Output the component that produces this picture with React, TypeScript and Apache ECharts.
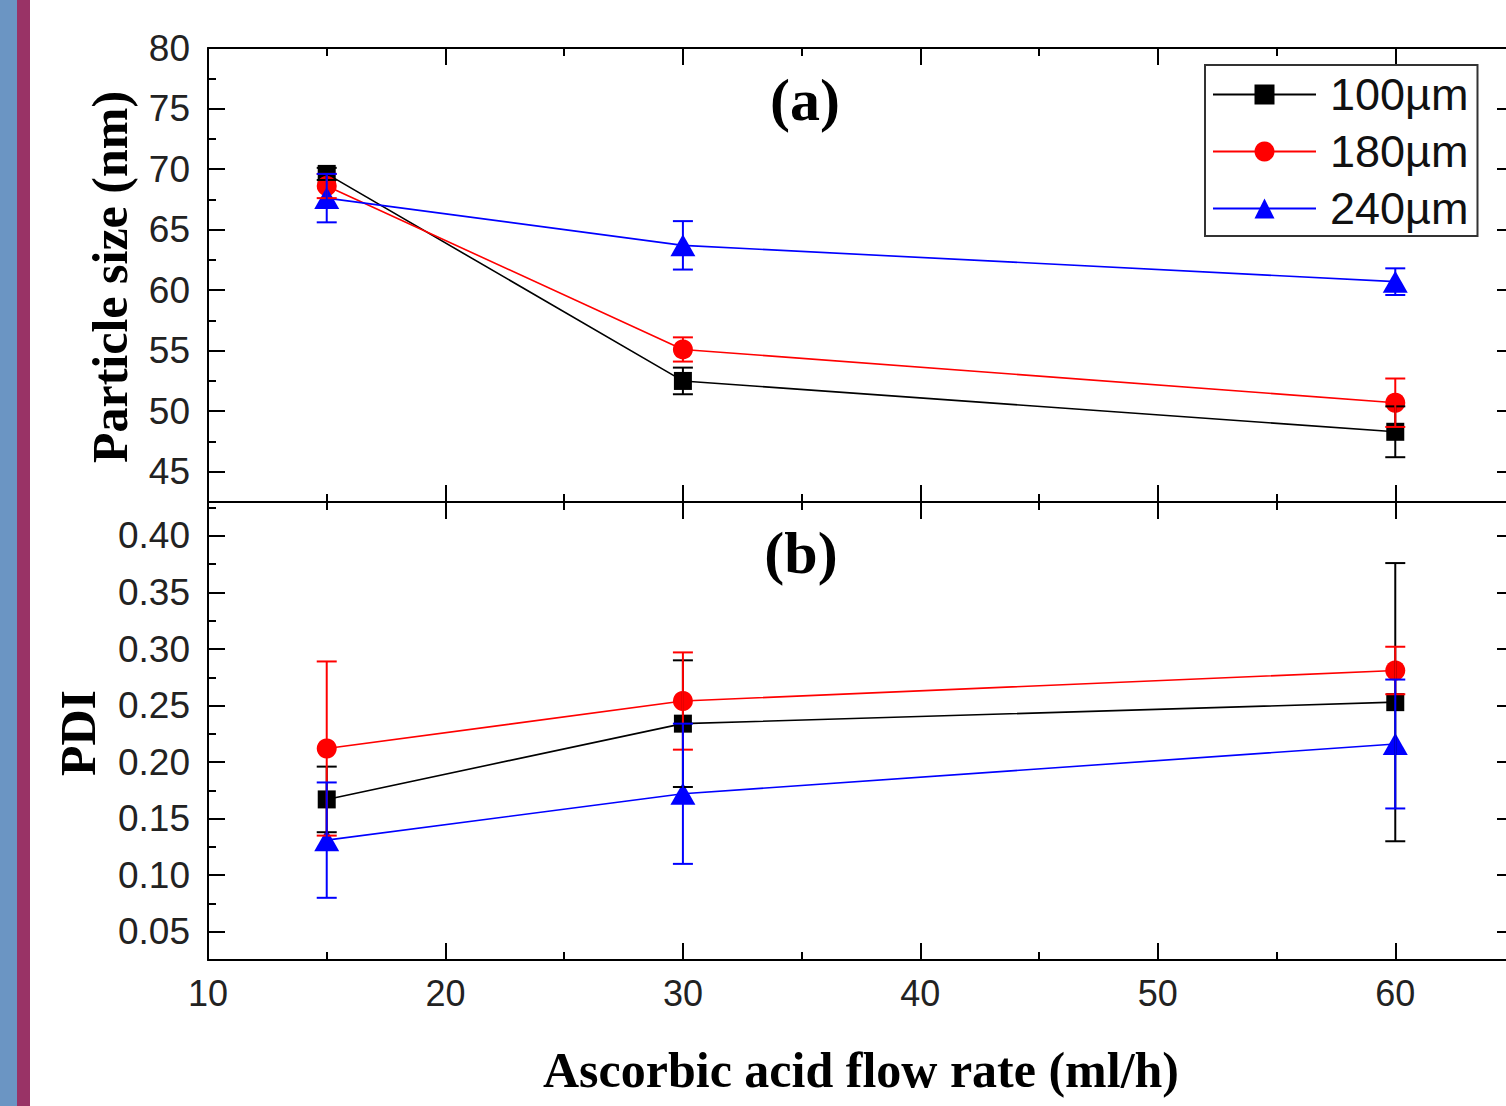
import React, { useEffect, useRef } from 'react';
import * as echarts from 'echarts';

// ---------------- data ----------------
const flowRates = [15, 30, 60];
const seriesNames = ['100µm', '180µm', '240µm'];
const seriesColors = ['#000000', '#ff0000', '#0000ff'];
const seriesSymbols = ['rect', 'circle', 'triangle'];
const seriesSymbolSizes: any[] = [18, 20, [25, 22]];

const size100 = [69.6, 52.5, 48.3];
const size100Err = [0.5, 1.1, 2.1];
const size180 = [68.6, 55.1, 50.7];
const size180Err = [1.0, 1.0, 2.0];
const size240 = [67.6, 63.7, 60.7];
const size240Err = [2.0, 2.0, 1.1];

const pdi100 = [0.167, 0.234, 0.253];
const pdi100Err = [0.029, 0.056, 0.123];
const pdi180 = [0.212, 0.254, 0.281];
const pdi180Err = [0.077, 0.043, 0.021];
const pdi240 = [0.131, 0.172, 0.216];
const pdi240Err = [0.051, 0.062, 0.057];

const xRange = [10, 65];
const sizeRange = [42.5, 80];
const pdiRange = [0.025, 0.43];

const panelMeans = [
  [size100, size180, size240],
  [pdi100, pdi180, pdi240],
];
const panelErrs = [
  [size100Err, size180Err, size240Err],
  [pdi100Err, pdi180Err, pdi240Err],
];

// ---------------- styling helpers ----------------
const SANS = 'Liberation Sans, Arial, sans-serif';
const SERIF = 'Liberation Serif, Times New Roman, serif';
const MAJOR = 17;
const MINOR = 8;

function xAxisPair(gridIndex: number, position: string, showLabel: boolean) {
  const base = {
    type: 'value',
    gridIndex,
    position,
    min: xRange[0],
    max: xRange[1],
    splitLine: { show: false },
  };
  return [
    {
      ...base,
      interval: 10,
      axisLine: { show: true, onZero: false, lineStyle: { color: '#000', width: 2 } },
      axisTick: { show: true, inside: true, length: MAJOR, lineStyle: { color: '#000', width: 2 } },
      axisLabel: {
        show: showLabel,
        showMaxLabel: false,
        margin: 15,
        fontSize: 36,
        fontFamily: SANS,
        color: '#222',
      },
    },
    {
      ...base,
      interval: 5,
      axisLine: { show: false, onZero: false },
      axisTick: { show: true, inside: true, length: MINOR, lineStyle: { color: '#000', width: 2 } },
      axisLabel: { show: false },
    },
  ];
}

function yAxisPair(
  gridIndex: number,
  position: string,
  range: number[],
  minorInterval: number,
  showLabel: boolean,
  showMax: boolean,
  fmt: (v: number) => string
) {
  const base = {
    type: 'value',
    gridIndex,
    position,
    min: range[0],
    max: range[1],
    splitLine: { show: false },
  };
  return [
    {
      ...base,
      splitNumber: 8,
      axisLine: { show: true, onZero: false, lineStyle: { color: '#000', width: 2 } },
      axisTick: { show: true, inside: true, length: MAJOR, lineStyle: { color: '#000', width: 2 } },
      axisLabel: {
        show: showLabel,
        showMinLabel: false,
        showMaxLabel: showMax,
        margin: 18,
        fontSize: 37,
        fontFamily: SANS,
        color: '#222',
        formatter: fmt,
      },
    },
    {
      ...base,
      interval: minorInterval,
      axisLine: { show: false, onZero: false },
      axisTick: { show: true, inside: true, length: MINOR, lineStyle: { color: '#000', width: 2 } },
      axisLabel: { show: false },
    },
  ];
}

const fmtInt = (v: number) => String(Math.round(v));
const fmt2 = (v: number) => v.toFixed(2);

function makeErrorRenderer(color: string) {
  return (params: any, api: any) => {
    const x = api.value(0);
    const lo = api.value(1);
    const hi = api.value(2);
    const pHi = api.coord([x, hi]);
    const pLo = api.coord([x, lo]);
    const hw = 10;
    const style = { stroke: color, lineWidth: 2 };
    return {
      type: 'group',
      children: [
        { type: 'line', shape: { x1: pHi[0], y1: pHi[1], x2: pLo[0], y2: pLo[1] }, style },
        { type: 'line', shape: { x1: pHi[0] - hw, y1: pHi[1], x2: pHi[0] + hw, y2: pHi[1] }, style },
        { type: 'line', shape: { x1: pLo[0] - hw, y1: pLo[1], x2: pLo[0] + hw, y2: pLo[1] }, style },
      ],
    };
  };
}

function buildSeries() {
  const out: any[] = [];
  for (let p = 0; p < 2; p++) {
    for (let i = 0; i < 3; i++) {
      const means = panelMeans[p][i];
      const errs = panelErrs[p][i];
      out.push({
        type: 'line',
        name: seriesNames[i],
        xAxisIndex: p * 4,
        yAxisIndex: p * 4,
        data: flowRates.map((x, j) => [x, means[j]]),
        symbol: seriesSymbols[i],
        symbolSize: seriesSymbolSizes[i],
        showAllSymbol: true,
        lineStyle: { color: seriesColors[i], width: 1.6 },
        itemStyle: { color: seriesColors[i] },
        z: 3,
      });
      out.push({
        type: 'custom',
        name: seriesNames[i] + ' error',
        xAxisIndex: p * 4,
        yAxisIndex: p * 4,
        data: flowRates.map((x, j) => [x, means[j] - errs[j], means[j] + errs[j]]),
        encode: { x: 0, y: [1, 2] },
        renderItem: makeErrorRenderer(seriesColors[i]),
        z: 4,
      });
    }
  }
  return out;
}

const option: any = {
  animation: false,
  backgroundColor: '#ffffff',
  grid: [
    { left: 208, top: 48, width: 1306, height: 454 },
    { left: 208, top: 502, width: 1306, height: 458 },
  ],
  xAxis: [
    ...xAxisPair(0, 'bottom', false),
    ...xAxisPair(0, 'top', false),
    ...xAxisPair(1, 'bottom', true),
    ...xAxisPair(1, 'top', false),
  ],
  yAxis: [
    ...yAxisPair(0, 'left', sizeRange, 2.5, true, true, fmtInt),
    ...yAxisPair(0, 'right', sizeRange, 2.5, false, true, fmtInt),
    ...yAxisPair(1, 'left', pdiRange, 0.025, true, false, fmt2),
    ...yAxisPair(1, 'right', pdiRange, 0.025, false, false, fmt2),
  ],
  legend: {
    data: seriesNames,
    orient: 'vertical',
    left: 1205,
    top: 65,
    padding: [7, 9, 5, 7],
    itemWidth: 103,
    itemHeight: 25,
    itemGap: 12,
    borderColor: '#333',
    borderWidth: 2,
    textStyle: {
      fontSize: 45,
      lineHeight: 44,
      fontFamily: SANS,
      color: '#111',
      padding: [0, 0, 0, 9],
    },
  },
  graphic: [
    { type: 'rect', left: 0, top: 0, shape: { width: 17, height: 1106 }, style: { fill: '#6b95c3' } },
    { type: 'rect', left: 17, top: 0, shape: { width: 13, height: 1106 }, style: { fill: '#993366' } },
    {
      type: 'text',
      x: 110,
      y: 277,
      rotation: Math.PI / 2,
      style: {
        text: 'Particle size (nm)',
        font: `bold 50px ${SERIF}`,
        fill: '#000',
        align: 'center',
        verticalAlign: 'middle',
      },
    },
    {
      type: 'text',
      x: 78,
      y: 733,
      rotation: Math.PI / 2,
      style: {
        text: 'PDI',
        font: `bold 50px ${SERIF}`,
        fill: '#000',
        align: 'center',
        verticalAlign: 'middle',
      },
    },
    {
      type: 'text',
      x: 861,
      y: 1070,
      style: {
        text: 'Ascorbic acid flow rate (ml/h)',
        font: `bold 50px ${SERIF}`,
        fill: '#000',
        align: 'center',
        verticalAlign: 'middle',
      },
    },
    {
      type: 'text',
      x: 805,
      y: 100,
      style: {
        text: '(a)',
        font: `bold 60px ${SERIF}`,
        fill: '#000',
        align: 'center',
        verticalAlign: 'middle',
      },
    },
    {
      type: 'text',
      x: 801,
      y: 553,
      style: {
        text: '(b)',
        font: `bold 60px ${SERIF}`,
        fill: '#000',
        align: 'center',
        verticalAlign: 'middle',
      },
    },
  ],
  series: buildSeries(),
};

export default function App() {
  const ref = useRef<HTMLDivElement>(null);
  useEffect(() => {
    if (!ref.current) return;
    const chart = echarts.init(ref.current, null, { renderer: 'svg' });
    chart.setOption(option);
    return () => {
      chart.dispose();
    };
  }, []);
  return (
    <div
      style={{
        position: 'fixed',
        left: 0,
        top: 0,
        width: 1506,
        height: 1106,
        overflow: 'hidden',
        background: '#fff',
      }}
    >
      <div ref={ref} style={{ width: 1530, height: 1106 }} />
    </div>
  );
}
